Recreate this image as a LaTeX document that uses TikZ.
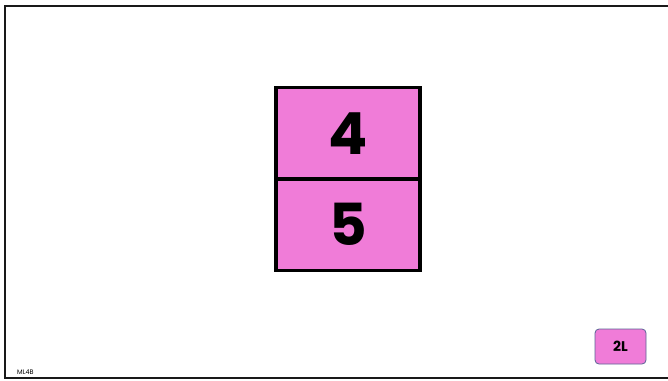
\documentclass[tikz,border=0pt]{standalone}
\usepackage{fontspec}
\setmainfont{Poppins}
\definecolor{cellpink}{RGB}{240,124,216}
\definecolor{badgeedge}{RGB}{90,100,150}
\tikzset{
  cell/.style={draw=black, line width=3.8pt, fill=cellpink, minimum width=144pt, minimum height=91.5pt, inner sep=0pt, font=\fontsize{58}{60}\selectfont\bfseries},
  badge/.style={draw=badgeedge, line width=0.8pt, fill=cellpink, rounded corners=4pt, minimum width=51pt, minimum height=35pt, inner sep=0pt, font=\fontsize{14}{15}\selectfont\bfseries},
  frame/.style={draw=black!90, line width=2pt},
}
\begin{document}
\begin{tikzpicture}[x=1pt,y=1pt]
\useasboundingbox (0,0) rectangle (668,-380);
\fill[white] (0,0) rectangle (668,-380);
% frame
\coordinate (tl) at (5,-6);
\coordinate (tr) at (668,-6);
\coordinate (bl) at (5,-378);
\coordinate (br) at (668,-378);
\draw[frame] (tr) -- (tl) -- (bl) -- (br);
% cells
\node[cell] (c4) at (348,-133.25) {4};
\node[cell] (c5) at (348,-224.75) {5};
% badge
\node[badge] (b) at (620.5,-346.5) {2L};
% label
\node[font=\fontsize{6.5}{7}\selectfont, anchor=west, inner sep=0pt] (ml) at (17,-372) {ML4B};
\end{tikzpicture}
\end{document}
